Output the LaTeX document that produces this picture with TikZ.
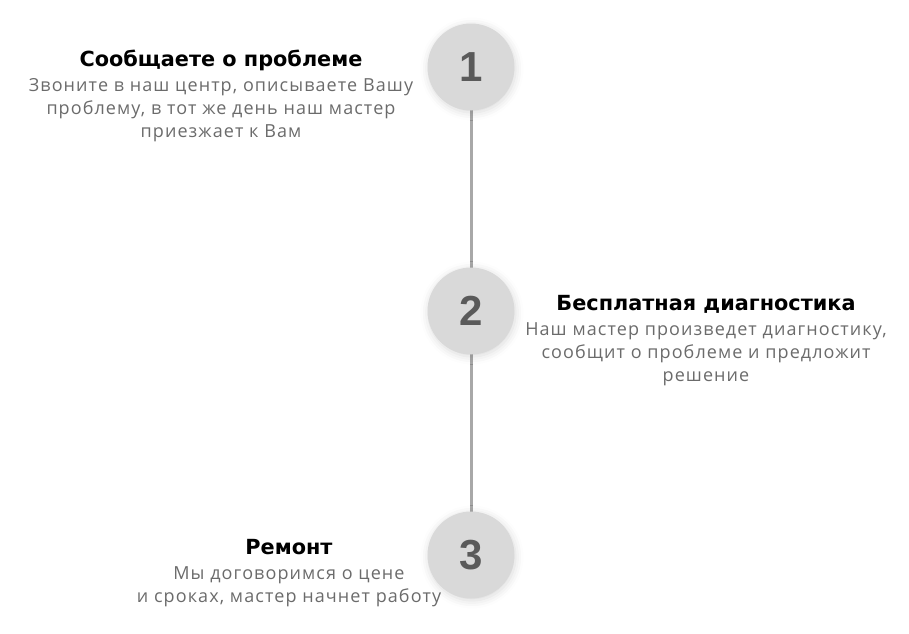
\documentclass[tikz,border=0pt]{standalone}
\usepackage{fontspec}
\setmainfont[LetterSpace=6]{Open Sans}
\newfontfamily\headfont{DejaVu Sans}
\newfontfamily\numfont{Liberation Sans}
\usetikzlibrary{shadows.blur}
\definecolor{circlegray}{HTML}{D9D9D9}
\definecolor{linegray}{HTML}{A8A8A8}
\definecolor{numgray}{HTML}{5A5A5A}
\definecolor{textgray}{HTML}{6B6B6B}
\tikzstyle{stage}=[circle, fill=circlegray, minimum size=87pt, inner sep=0pt,
  font=\numfont\bfseries\fontsize{42}{42}\selectfont, text=numgray,
  blur shadow={shadow xshift=1pt, shadow yshift=-2pt, shadow blur radius=8pt, shadow opacity=15}]
\tikzstyle{title}=[anchor=base, inner sep=0pt, font=\headfont\bfseries\fontsize{20.8}{24}\selectfont]
\tikzstyle{info}=[anchor=base, inner sep=0pt, align=center, text=textgray, font=\fontsize{18}{23}\selectfont]

\begin{document}
\begin{tikzpicture}[x=1pt, y=-1pt]
		   \useasboundingbox (0, 0) rectangle (909, 633);
		   \begin{scope}
			   \path [-, draw=linegray, line width=3pt] (471, 67) -- (471, 555);
			   \node (1) at (471, 67)[stage] {1};
			   \node (2) at (471, 311)[stage] {2};
			   \node (3) at (471, 555)[stage] {3};
		   \end{scope}
		   \begin{scope}
			   \node (t1) at (221, 66)[title] {Сообщаете о проблеме};
			   \node (d1) at (221, 137)[info] {Звоните в наш центр, описываете Вашу\\проблему, в тот же день наш мастер\\приезжает к Вам};
			   \node (t2) at (706, 310)[title] {Бесплатная диагностика};
			   \node (d2) at (706, 381)[info] {Наш мастер произведет диагностику,\\сообщит о проблеме и предложит\\решение};
			   \node (t3) at (289, 554)[title] {Ремонт};
			   \node (d3) at (289, 602)[info] {Мы договоримся о цене\\и сроках, мастер начнет работу};
		   \end{scope}
	   \end{tikzpicture}
\end{document}
